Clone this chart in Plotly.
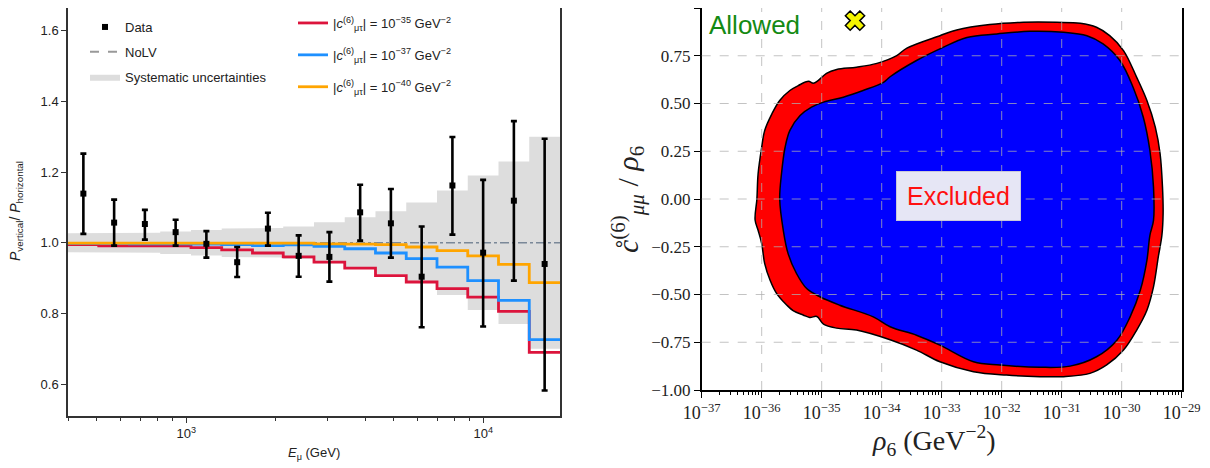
import numpy as np
import plotly.graph_objects as go

# ---------------- Left panel data ----------------
bin_edges = [400, 507.6, 644.2, 817.5, 1037.5, 1316.6, 1671.0, 2120.6, 2691.5,
             3415.8, 4335.1, 5501.6, 6982.3, 8861.6, 11246, 14273, 18113]
bin_centers = [450.6, 571.9, 725.8, 921.1, 1169, 1484, 1883, 2390, 3033,
               3849, 4885, 6200, 7868, 9983, 12670, 16080]
data_ratio = [1.139, 1.057, 1.053, 1.030, 0.997, 0.945, 1.040, 0.963,
              0.960, 1.086, 1.055, 0.904, 1.162, 0.972, 1.119, 0.940]
data_upper = [1.252, 1.122, 1.093, 1.065, 1.033, 0.988, 1.085, 1.021,
              1.030, 1.164, 1.152, 1.046, 1.299, 1.178, 1.344, 1.294]
data_lower = [1.025, 0.992, 1.009, 0.992, 0.958, 0.903, 0.992, 0.904,
              0.890, 1.006, 0.958, 0.761, 1.023, 0.763, 0.893, 0.582]
syst_halfwidth = [0.027, 0.027, 0.028, 0.032, 0.036, 0.040, 0.042, 0.046,
                  0.058, 0.072, 0.089, 0.114, 0.148, 0.190, 0.230, 0.300]
ratio_c35 = [0.995, 0.991, 0.991, 0.991, 0.986, 0.980, 0.971, 0.960,
             0.945, 0.928, 0.907, 0.889, 0.870, 0.846, 0.806, 0.690]
ratio_c37 = [0.998, 0.998, 0.997, 0.997, 0.996, 0.995, 0.992, 0.994,
             0.990, 0.983, 0.971, 0.955, 0.931, 0.893, 0.837, 0.726]
ratio_c40 = [0.999, 0.999, 0.999, 0.999, 0.999, 0.999, 0.999, 0.999,
             0.997, 0.996, 0.995, 0.988, 0.978, 0.963, 0.939, 0.887]
nolv_ratio = 1.0

# ---------------- Right panel data (log10 rho6, c/rho6) ----------------
outer_logrho = [-36.08, -36.06, -36.00, -35.95, -35.83, -35.70, -35.53, -35.39, -35.22,
                -35.14, -35.06, -34.92, -34.75, -34.42, -34.08, -33.75, -33.58, -33.03,
                -32.75, -32.20, -31.64, -31.08, -30.69, -30.42, -30.20, -29.97, -29.75,
                -29.58, -29.44, -29.36, -29.32, -29.31, -29.33, -29.39, -29.47, -29.58,
                -29.75, -29.97, -30.25, -30.53, -30.97, -31.36, -31.92, -32.47, -33.03,
                -33.42, -33.86, -34.42, -34.75, -34.97, -35.08, -35.20, -35.31, -35.47,
                -35.58, -35.75, -35.86, -35.95, -36.00, -36.06, -36.11]
outer_c = [0.000, 0.132, 0.271, 0.359, 0.446, 0.516, 0.568, 0.594, 0.616,
           0.606, 0.620, 0.658, 0.678, 0.690, 0.710, 0.751, 0.790, 0.855,
           0.885, 0.913, 0.925, 0.925, 0.920, 0.899, 0.855, 0.777, 0.637,
           0.516, 0.376, 0.237, 0.062, -0.077, -0.190, -0.303, -0.460, -0.582,
           -0.686, -0.791, -0.869, -0.913, -0.930, -0.930, -0.922, -0.904, -0.852,
           -0.791, -0.737, -0.686, -0.676, -0.655, -0.615, -0.620, -0.607, -0.586,
           -0.556, -0.495, -0.425, -0.338, -0.233, -0.164, -0.110]
inner_logrho = [-35.70, -35.67, -35.61, -35.53, -35.36, -35.17, -34.97, -34.64, -34.31,
                -33.97, -33.86, -33.42, -33.03, -32.58, -32.08, -31.53, -30.97, -30.58,
                -30.31, -30.03, -29.81, -29.64, -29.53, -29.47, -29.47, -29.53, -29.58,
                -29.69, -29.86, -30.08, -30.42, -30.86, -31.36, -32.03, -32.47, -33.03,
                -33.42, -33.86, -34.14, -34.70, -35.03, -35.25, -35.42, -35.56, -35.64]
inner_c = [0.000, 0.132, 0.271, 0.359, 0.437, 0.481, 0.507, 0.533, 0.568,
           0.611, 0.640, 0.725, 0.786, 0.846, 0.864, 0.878, 0.873, 0.855,
           0.812, 0.725, 0.585, 0.428, 0.254, 0.062, -0.112, -0.190, -0.321,
           -0.478, -0.617, -0.739, -0.826, -0.875, -0.881, -0.869, -0.852, -0.765,
           -0.713, -0.669, -0.617, -0.556, -0.512, -0.469, -0.390, -0.286, -0.164]
marker_logrho = [-34.445]
marker_c = [0.934]

left_ticks_x = [1e3, 1e4]
left_ticktext_x = ["10<sup>3</sup>", "10<sup>4</sup>"]
left_ticks_y = [0.6, 0.8, 1.0, 1.2, 1.4, 1.6]
right_exps = list(range(-37, -28))
right_ticks_y = [-1.0, -0.75, -0.5, -0.25, 0.0, 0.25, 0.5, 0.75, 1.0]

# ---------------- figure ----------------
# the page body has an 8px margin: figure is sized so it ends at the window edge
OFF = 8
W, H = 1210 - OFF, 468 - OFF
SANS = "Liberation Sans, Arial, sans-serif"
SERIF = "Liberation Serif, DejaVu Serif, serif"


def px(x):
    return min(max((x - OFF) / W, 0.0), 1.0)


def py(y):
    return min(max(1 - (y - OFF) / H, 0.0), 1.0)


fig = go.Figure()

# systematic band polygon (step shape)
sx, sy_up, sy_lo = [], [], []
for i, h in enumerate(syst_halfwidth):
    sx += [bin_edges[i], bin_edges[i + 1]]
    sy_up += [1 + h, 1 + h]
    sy_lo += [1 - h, 1 - h]
fig.add_trace(go.Scatter(
    x=sx + sx[::-1], y=sy_up + sy_lo[::-1], fill="toself",
    fillcolor="#dddddd", line=dict(width=0), mode="lines",
    name="Systematic uncertainties", xaxis="x", yaxis="y", legend="legend",
    legendrank=3, legendgroup="g3"))

# NoLV
fig.add_trace(go.Scatter(
    x=[bin_edges[0], bin_edges[-1]], y=[nolv_ratio, nolv_ratio], mode="lines",
    line=dict(color="#7a8898", width=1.3, dash="dashdot"), showlegend=False,
    xaxis="x", yaxis="y"))
fig.add_trace(go.Scatter(
    x=[None], y=[None], mode="lines", line=dict(color="#999999", width=2, dash="dash"),
    name="NoLV", xaxis="x", yaxis="y", legend="legend", legendrank=2, legendgroup="g2"))

model_specs = [
    (ratio_c35, "#dc143c", "−35"),
    (ratio_c37, "#1e90ff", "−37"),
    (ratio_c40, "#ffa500", "−40"),
]
for k, (vals, col, ex) in enumerate(model_specs):
    fig.add_trace(go.Scatter(
        x=bin_edges, y=list(vals) + [vals[-1]], mode="lines", line_shape="hv",
        line=dict(color=col, width=2.8),
        name="|<i>c</i><sup>(6)</sup><sub>μτ</sub>| = 10<sup>%s</sup> GeV<sup>−2</sup>" % ex,
        xaxis="x", yaxis="y", legend="legend2", legendrank=k + 1,
        legendgroup="m%d" % k))

err_plus = [u - v for u, v in zip(data_upper, data_ratio)]
err_minus = [v - l for v, l in zip(data_ratio, data_lower)]
fig.add_trace(go.Scatter(
    x=bin_centers, y=data_ratio, mode="markers",
    marker=dict(symbol="square", size=6, color="black"),
    error_y=dict(type="data", array=err_plus, arrayminus=err_minus,
                 color="black", thickness=2.6, width=3),
    name="Data", xaxis="x", yaxis="y", legend="legend", legendrank=1, legendgroup="g1"))

# right panel
fig.add_trace(go.Scatter(
    x=[10.0 ** v for v in outer_logrho + outer_logrho[:1]], y=outer_c + outer_c[:1],
    mode="lines", fill="toself", fillcolor="#ff0000", line=dict(color="black", width=1.5),
    line_shape="spline", showlegend=False, xaxis="x2", yaxis="y2"))
fig.add_trace(go.Scatter(
    x=[10.0 ** v for v in inner_logrho + inner_logrho[:1]], y=inner_c + inner_c[:1],
    mode="lines", fill="toself", fillcolor="#0000ff", line=dict(color="black", width=1.5),
    line_shape="spline", showlegend=False, xaxis="x2", yaxis="y2"))
fig.add_trace(go.Scatter(
    x=[10.0 ** v for v in marker_logrho], y=marker_c, mode="markers",
    marker=dict(symbol="x", size=17, color="#f5f500", line=dict(color="black", width=1.5)),
    showlegend=False, xaxis="x2", yaxis="y2", cliponaxis=False))

# grid (above fills) for right panel
shapes = []
for e in right_exps[1:-1]:
    fx = (e - right_exps[0]) / (right_exps[-1] - right_exps[0])
    shapes.append(dict(type="line", xref="x2 domain", yref="y2 domain", x0=fx, x1=fx,
                       y0=0, y1=1, layer="above",
                       line=dict(color="rgba(175,175,175,0.75)", width=1, dash="dash")))
for v in right_ticks_y[1:-1]:
    shapes.append(dict(type="line", xref="x2 domain", yref="y2", x0=0, x1=1,
                       y0=v, y1=v, layer="above",
                       line=dict(color="rgba(175,175,175,0.75)", width=1, dash="dash")))

xl0, xl1, yl0, yl1 = 68, 560, 8, 416
xr0, xr1, yr0, yr1 = 701.7, 1181.7, 8, 390

minor_left = [m * 10 ** d for d in (2, 3, 4) for m in range(2, 10)]
minor_right = [m * 10.0 ** d for d in right_exps[:-1] for m in range(2, 10)]

fig.update_layout(
    width=W, height=H, autosize=False,
    margin=dict(l=0, r=0, t=0, b=0, autoexpand=False),
    paper_bgcolor="white", plot_bgcolor="white",
    showlegend=True,
    shapes=shapes,
    xaxis=dict(domain=[px(xl0), px(xl1)], anchor="y", type="log",
               range=[np.log10(400), np.log10(18113)],
               tickmode="array", tickvals=left_ticks_x, ticktext=left_ticktext_x,
               ticks="outside", ticklen=5, tickwidth=1, tickcolor="#333",
               minor=dict(tickmode="array", tickvals=minor_left, ticks="outside",
                          ticklen=3, tickcolor="#333", showgrid=False),
               showgrid=False, zeroline=False, showline=True, linecolor="#333",
               linewidth=1.5, mirror=True, automargin=False,
               tickfont=dict(family=SANS, size=13, color="#222")),
    yaxis=dict(domain=[py(yl1), py(yl0)], anchor="x",
               range=[0.51, 1.664], tickmode="array", tickvals=left_ticks_y,
               tickformat=".1f", ticks="outside", ticklen=5, tickcolor="#333",
               showgrid=False, zeroline=False, showline=True, linecolor="#333",
               linewidth=1.5, mirror=True, automargin=False,
               tickfont=dict(family=SANS, size=13, color="#222")),
    xaxis2=dict(domain=[px(xr0), px(xr1)], anchor="y2", type="log",
                range=[right_exps[0], right_exps[-1]],
                tickmode="array", tickvals=[10.0 ** e for e in right_exps],
                ticktext=["10<sup>−%d</sup>" % (-e) for e in right_exps],
                ticks="outside", ticklen=6, tickcolor="black",
                minor=dict(tickmode="array", tickvals=minor_right, ticks="outside",
                           ticklen=3, tickcolor="black", showgrid=False),
                showgrid=False, zeroline=False, showline=True, linecolor="black",
                linewidth=1.5, mirror=True, automargin=False,
                tickfont=dict(family=SERIF, size=18, color="#222")),
    yaxis2=dict(domain=[py(yr1), py(yr0)], anchor="x2",
                range=[-1, 1], tickmode="array", tickvals=right_ticks_y,
                tickformat=".2f", ticks="outside", ticklen=6, tickcolor="black",
                showgrid=False, zeroline=False, showline=True, linecolor="black",
                linewidth=1.5, mirror=True, automargin=False,
                tickfont=dict(family=SERIF, size=17, color="#222")),
    legend=dict(x=px(85), y=py(12), xanchor="left", yanchor="top",
                bgcolor="rgba(0,0,0,0)", font=dict(family=SANS, size=13, color="#222"),
                tracegroupgap=5, itemwidth=30, traceorder="grouped"),
    legend2=dict(x=px(293), y=py(8), xanchor="left", yanchor="top",
                 bgcolor="rgba(0,0,0,0)", font=dict(family=SANS, size=13, color="#222"),
                 tracegroupgap=12, itemwidth=30, traceorder="grouped"),
)

annotations = [
    dict(text="<i>P</i><sub>vertical</sub>/ <i>P</i><sub>horizontal</sub>",
         x=px(16), y=py(211), xref="paper", yref="paper", showarrow=False,
         xanchor="center", yanchor="middle",
         textangle=-90, font=dict(family=SANS, size=14, color="#222")),
    dict(text="<i>E</i><sub>μ</sub> (GeV)", x=px(314), y=py(453), xref="paper",
         yref="paper", showarrow=False, xanchor="center", yanchor="middle",
         font=dict(family=SANS, size=13, color="#222")),
    dict(text="<i>c\u030a</i><sup>(6)</sup><sub><i>μμ</i></sub> / <i>ρ</i><sub>6</sub>",
         x=px(627), y=py(200), xref="paper", yref="paper", showarrow=False,
         xanchor="center", yanchor="middle",
         textangle=-90, font=dict(family=SERIF, size=30, color="#222")),
    dict(text="<i>ρ</i><sub>6</sub> (GeV<sup>−2</sup>)", x=px(934), y=py(440),
         xref="paper", yref="paper", showarrow=False, xanchor="center", yanchor="middle",
         font=dict(family=SERIF, size=28, color="#222")),
    dict(text="Allowed", x=px(707), y=py(25), xref="paper", yref="paper",
         xanchor="left", yanchor="middle", showarrow=False,
         font=dict(family=SANS, size=26, color="#138a13")),
    dict(text="Excluded", x=px(958), y=py(196), xref="paper", yref="paper",
         xanchor="center", yanchor="middle",
         showarrow=False, font=dict(family=SANS, size=25, color="#ff1010"),
         bgcolor="#e6e6f5", bordercolor="#c8c8d8", borderwidth=1, borderpad=10),
]
fig.update_layout(annotations=annotations)

fig.write_html("out.html")
